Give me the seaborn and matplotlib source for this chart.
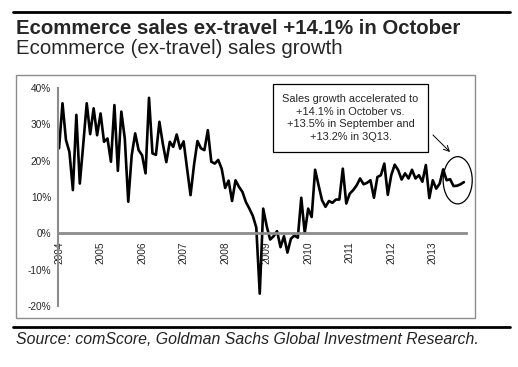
import numpy as np
import pandas as pd
import matplotlib
matplotlib.use("Agg")
import matplotlib.pyplot as plt
from matplotlib.patches import Rectangle, Ellipse
from matplotlib.lines import Line2D
import seaborn as sns

# monthly yoy growth, Jan 2004 .. Oct 2013 (%)
growth_2004 = [23.4, 35.8, 25.7, 22.4, 11.9, 32.6, 13.7, 24.5, 35.8, 27.3, 34.4, 27.0]
growth_2005 = [33.0, 25.2, 26.1, 19.7, 35.3, 17.2, 33.5, 26.1, 8.7, 21.5, 27.5, 22.9]
growth_2006 = [21.5, 16.5, 37.3, 22.0, 21.6, 30.7, 24.6, 19.6, 25.2, 23.8, 27.2, 23.3]
growth_2007 = [25.3, 17.8, 10.5, 18.8, 25.4, 23.4, 22.9, 28.4, 19.7, 19.2, 20.2, 17.8]
growth_2008 = [12.5, 14.5, 8.9, 14.6, 12.8, 11.4, 8.6, 6.8, 4.8, 1.6, -16.6, 6.8]
growth_2009 = [2.0, -1.7, -0.8, 0.6, -3.8, -0.8, -5.3, -1.5, -0.6, -1.2, 9.8, 0.1]
growth_2010 = [6.8, 4.5, 17.5, 13.2, 9.1, 7.3, 8.9, 8.4, 9.3, 9.3, 17.8, 8.2]
growth_2011 = [10.9, 11.9, 13.2, 15.1, 13.5, 13.9, 14.6, 9.8, 15.5, 16.0, 19.2, 10.6]
growth_2012 = [16.0, 18.9, 17.4, 14.8, 16.5, 15.1, 17.5, 15.1, 16.0, 14.2, 18.8, 9.7]
growth_2013 = [14.6, 12.3, 13.7, 17.6, 14.6, 14.9, 13.0, 13.1, 13.5, 14.1]

years = ["2004", "2005", "2006", "2007", "2008", "2009", "2010", "2011", "2012", "2013"]
y_ticks = [40, 30, 20, 10, 0, -10, -20]

title = "Ecommerce sales ex-travel +14.1% in October"
subtitle = "Ecommerce (ex-travel) sales growth"
source = "Source: comScore, Goldman Sachs Global Investment Research."
note_lines = ["Sales growth accelerated to", "+14.1% in October vs.",
              "+13.5% in September and", "+13.2% in 3Q13."]

values = (growth_2004 + growth_2005 + growth_2006 + growth_2007 + growth_2008
          + growth_2009 + growth_2010 + growth_2011 + growth_2012 + growth_2013)
df = pd.DataFrame({"month": np.arange(len(values)), "growth": values})

sns.set_style("white")
plt.rcParams["font.family"] = ["Liberation Sans", "DejaVu Sans"]

W, H = 518, 367
fig = plt.figure(figsize=(W / 100, H / 100), dpi=100)


def fx(x):
    return x / W


def fy(y):
    return 1 - y / H


# axes placed in pixel terms
ax = fig.add_axes([fx(58), fy(306), fx(466) - fx(58), fy(88) - fy(306)])
sns.lineplot(data=df, x="month", y="growth", ax=ax, color="black", lw=1.9)
ax.set_xlim(-0.3, 117.6)
ax.set_ylim(-20, 40)
ax.set_xlabel("")
ax.set_ylabel("")

grey = "#8c8c8c"
for s in ["top", "right"]:
    ax.spines[s].set_visible(False)
ax.spines["left"].set_color(grey)
ax.spines["left"].set_linewidth(1.5)
ax.spines["bottom"].set_position(("data", 0))
ax.spines["bottom"].set_color(grey)
ax.spines["bottom"].set_linewidth(2)

ax.set_yticks(y_ticks)
ax.set_yticklabels([f"{v}%" for v in y_ticks], fontsize=7.3)
ax.tick_params(axis="y", direction="out", length=3, width=1, color=grey, pad=2)

ax.set_xticks(np.arange(len(years)) * 12)
ax.set_xticklabels(years, rotation=90, fontsize=7.3, va="top")
ax.set_xticks(np.arange(len(values)), minor=True)
ax.tick_params(axis="x", which="both", direction="out", length=3, width=0.8,
               color=grey, pad=3)

# circle around latest months
ell = Ellipse((115.2, 14.6), 8.4, 13.0, fill=False, ec="black", lw=0.9,
              clip_on=False)
ax.add_patch(ell)

# frame and rules
fig.patches.append(Rectangle((fx(16), fy(318)), fx(475) - fx(16), fy(75) - fy(318),
                             transform=fig.transFigure, fill=False, ec=grey, lw=1))
fig.lines.append(Line2D([fx(13), fx(510)], [fy(12), fy(12)], transform=fig.transFigure,
                        color="black", lw=2))
fig.lines.append(Line2D([fx(13), fx(510)], [fy(327), fy(327)], transform=fig.transFigure,
                        color="black", lw=2))

# annotation box
fig.patches.append(Rectangle((fx(273), fy(152)), fx(428) - fx(273), fy(84) - fy(152),
                             transform=fig.transFigure, fill=False, ec="black", lw=0.9))
for i, line in enumerate(note_lines):
    fig.text(fx(350.5), fy(99 + i * 12.7), line, fontsize=7.9, ha="center", va="center")
ax.annotate("", xy=(fx(452), fy(154)), xytext=(fx(431), fy(133)),
            xycoords="figure fraction", textcoords="figure fraction",
            arrowprops=dict(arrowstyle="->", color="black", lw=0.7))

fig.text(fx(16), fy(28), title, fontsize=14.7, fontweight="bold", va="center")
fig.text(fx(16), fy(48), subtitle, fontsize=14.7, va="center")
fig.text(fx(16), fy(340), source, fontsize=11.4, style="italic", va="center",
         color="#222222")

fig.savefig("out.png", dpi=100)
